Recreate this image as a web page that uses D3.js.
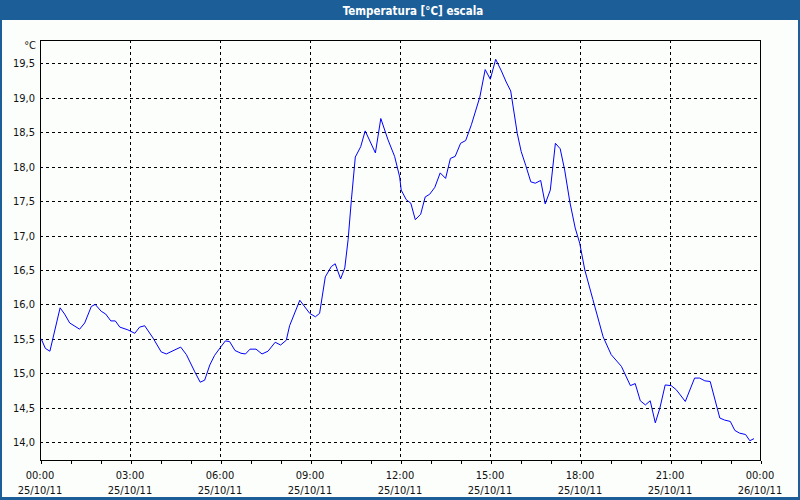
<!DOCTYPE html>
<html><head><meta charset="utf-8">
<script src="https://cdn.jsdelivr.net/npm/d3@7"></script>
<style>html,body{margin:0;padding:0;background:#fff;}svg{display:block;}</style>
</head><body>
<script>
const title = "Temperatura [°C] escala";
const unit = "°C";
const hours = [0.04,0.18,0.33,0.67,0.82,0.99,1.32,1.49,1.71,1.84,2.04,2.19,2.36,2.51,2.66,2.93,3.16,3.32,3.49,3.77,4.04,4.21,4.69,4.88,5.16,5.34,5.49,5.66,5.82,6.04,6.18,6.32,6.5,6.7,6.85,7.0,7.2,7.4,7.6,7.84,8.02,8.21,8.32,8.66,8.99,9.18,9.32,9.51,9.71,9.84,10.02,10.16,10.27,10.38,10.51,10.69,10.84,11.18,11.36,11.6,11.82,11.99,12.04,12.21,12.36,12.51,12.69,12.84,12.99,13.16,13.34,13.52,13.68,13.84,14.02,14.19,14.38,14.66,14.84,15.01,15.19,15.38,15.54,15.69,15.91,16.04,16.19,16.36,16.51,16.69,16.84,17.01,17.18,17.34,17.49,17.66,17.84,17.99,18.16,18.43,18.77,19.04,19.38,19.68,19.84,20.01,20.18,20.34,20.51,20.66,20.84,21.04,21.21,21.51,21.82,21.99,22.16,22.34,22.66,22.82,23.01,23.16,23.32,23.52,23.66,23.8];
const temps = [15.50,15.36,15.32,15.95,15.86,15.73,15.64,15.73,15.97,16.00,15.90,15.86,15.76,15.76,15.67,15.63,15.58,15.67,15.69,15.51,15.31,15.28,15.38,15.27,15.02,14.87,14.90,15.12,15.26,15.39,15.47,15.46,15.33,15.29,15.28,15.35,15.35,15.28,15.32,15.45,15.41,15.48,15.69,16.06,15.87,15.82,15.87,16.40,16.55,16.59,16.37,16.53,16.94,17.52,18.14,18.29,18.52,18.20,18.70,18.39,18.15,17.85,17.66,17.52,17.47,17.23,17.31,17.56,17.60,17.70,17.91,17.83,18.12,18.15,18.34,18.38,18.61,19.01,19.41,19.27,19.56,19.39,19.23,19.10,18.48,18.22,18.02,17.78,17.76,17.80,17.46,17.66,18.34,18.26,17.95,17.49,17.11,16.89,16.50,16.07,15.53,15.27,15.10,14.82,14.85,14.60,14.54,14.60,14.28,14.49,14.83,14.82,14.76,14.59,14.93,14.93,14.89,14.88,14.35,14.32,14.30,14.17,14.13,14.11,14.02,14.05];
const xTickHours = [0,3,6,9,12,15,18,21,24];
const xTickTimes = ["00:00","03:00","06:00","09:00","12:00","15:00","18:00","21:00","00:00"];
const xTickDates = ["25/10/11","25/10/11","25/10/11","25/10/11","25/10/11","25/10/11","25/10/11","25/10/11","26/10/11"];
const yTicks = [14.0,14.5,15.0,15.5,16.0,16.5,17.0,17.5,18.0,18.5,19.0,19.5];

const W = 800, H = 500;
const L = 40, R = 760, T = 40, B = 460;
const font = "Tahoma, 'DejaVu Sans Condensed', 'Liberation Sans', sans-serif";
const blue = "#1c5e98";

const svg = d3.select("body").append("svg").attr("width", W).attr("height", H);
svg.append("rect").attr("width", W).attr("height", H).attr("fill", blue);
svg.append("rect").attr("x", 2).attr("y", 20).attr("width", W - 4).attr("height", H - 23).attr("fill", "#fcfefc");
svg.append("text").attr("x", 413).attr("y", 14.5).attr("text-anchor", "middle")
  .attr("fill", "#fff").attr("font-family", font).attr("font-weight", "bold").attr("font-size", 11.5).text(title);

const x = d3.scaleLinear().domain([0, 24]).range([L, R]);
const y = d3.scaleLinear().domain([13.74, 19.84]).range([B, T]);
const cr = v => Math.round(v) + 0.5;

const g = svg.append("g");
// grid
g.selectAll(".hg").data(yTicks).enter().append("line")
  .attr("x1", L).attr("x2", R).attr("y1", d => cr(y(d))).attr("y2", d => cr(y(d)))
  .attr("stroke", "#000").attr("stroke-dasharray", "3,3").attr("shape-rendering", "crispEdges");
g.selectAll(".vg").data(xTickHours.slice(1, -1)).enter().append("line")
  .attr("y1", T).attr("y2", B).attr("x1", d => cr(x(d))).attr("x2", d => cr(x(d)))
  .attr("stroke", "#000").attr("stroke-dasharray", "3,3").attr("shape-rendering", "crispEdges");

// x axis minor ticks
const xAxis = d3.axisBottom(x).tickValues(d3.range(0, 25, 1)).tickSize(3).tickFormat("");
const xa = svg.append("g").attr("transform", `translate(0.5,${B + 0.5})`).call(xAxis);
xa.select(".domain").remove();
xa.selectAll("line").attr("shape-rendering", "crispEdges");

// x labels
const lbl = svg.append("g").attr("font-family", font).attr("font-size", 11).attr("fill", "#111");
lbl.selectAll(".t1").data(xTickHours).enter().append("text")
  .attr("x", d => x(d)).attr("y", 479).attr("text-anchor", "middle").text((d, i) => xTickTimes[i]);
lbl.selectAll(".t2").data(xTickHours).enter().append("text")
  .attr("x", d => x(d)).attr("y", 494).attr("text-anchor", "middle").text((d, i) => xTickDates[i]);
// y labels
lbl.selectAll(".ty").data(yTicks).enter().append("text")
  .attr("x", 35).attr("y", d => y(d) + 4).attr("text-anchor", "end")
  .text(d => d.toFixed(1).replace(".", ","));
lbl.append("text").attr("x", 36).attr("y", 49).attr("text-anchor", "end").text(unit);

// frame
svg.append("rect").attr("x", L + 0.5).attr("y", T + 0.5).attr("width", R - L).attr("height", B - T)
  .attr("fill", "none").attr("stroke", "#000").attr("shape-rendering", "crispEdges");

// line
const pts = hours.map((h, i) => [h, temps[i]]);
svg.append("path").datum(pts)
  .attr("d", d3.line().x(d => x(d[0])).y(d => y(d[1])))
  .attr("fill", "none").attr("stroke", "#0000ff").attr("stroke-width", 1);
</script>
</body></html>
